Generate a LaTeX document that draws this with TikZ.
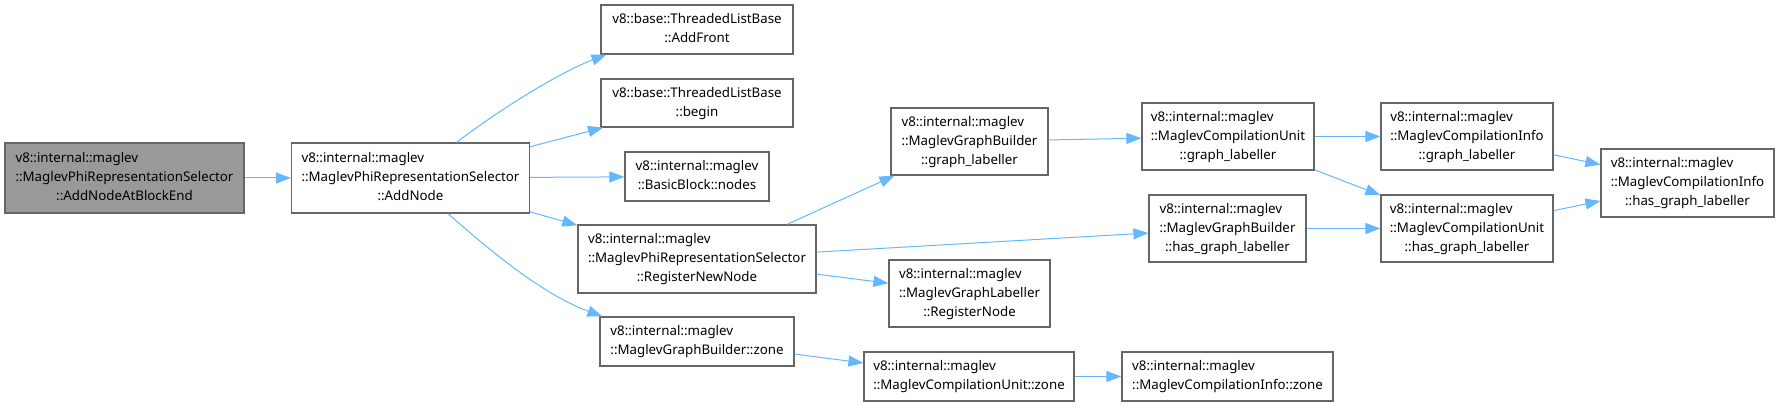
\documentclass[tikz,border=0pt]{standalone}
\usepackage{fontspec}
\setmainfont{Noto Sans}
\usetikzlibrary{arrows.meta,calc}
\definecolor{edgec}{HTML}{63B8FF}
\definecolor{bord}{HTML}{666666}
\definecolor{selfill}{HTML}{999999}
\newcommand{\lblA}[2]{\begin{tabular}{@{}l@{}}#1\\\multicolumn{1}{@{}c@{}}{#2}\end{tabular}}
\newcommand{\lblB}[3]{\begin{tabular}{@{}l@{}}#1\\#2\\\multicolumn{1}{@{}c@{}}{#3}\end{tabular}}
\tikzset{
  nbox/.style={rectangle, draw=bord, line width=1.2pt, fill=white, inner sep=0pt,
    font=\fontsize{13.3}{19}\selectfont, text=black},
  nsel/.style={nbox, fill=selfill},
  edge/.style={draw=edgec, line width=1pt, -{Triangle[length=15pt,width=11pt]}},
}
\begin{document}
\begin{tikzpicture}[x=1pt,y=-1pt]
\useasboundingbox (0,0) rectangle (1779,406);
\node[nsel, minimum width=239pt, minimum height=70pt] (sel) at (124.5,178) {\lblB{v8::internal::maglev}{::MaglevPhiRepresentationSelector}{::AddNodeAtBlockEnd}};
\node[nbox, minimum width=238pt, minimum height=70pt] (addnode) at (410.5,178) {\lblB{v8::internal::maglev}{::MaglevPhiRepresentationSelector}{::AddNode}};
\node[nbox, minimum width=192pt, minimum height=49pt] (addfront) at (697,29.5) {\lblA{v8::base::ThreadedListBase}{::AddFront}};
\node[nbox, minimum width=192pt, minimum height=48pt] (begin) at (697,103) {\lblA{v8::base::ThreadedListBase}{::begin}};
\node[nbox, minimum width=144pt, minimum height=49pt] (nodes) at (697,176.5) {\lblA{v8::internal::maglev}{::BasicBlock::nodes}};
\node[nbox, minimum width=238pt, minimum height=68pt] (regnew) at (697,259) {\lblB{v8::internal::maglev}{::MaglevPhiRepresentationSelector}{::RegisterNewNode}};
\node[nbox, minimum width=194pt, minimum height=49pt] (gbzone) at (697,341.5) {\lblA{v8::internal::maglev}{::MaglevGraphBuilder::zone}};
\node[nbox, minimum width=157pt, minimum height=67pt] (gbgl) at (969.5,141.5) {\lblB{v8::internal::maglev}{::MaglevGraphBuilder}{::graph\_labeller}};
\node[nbox, minimum width=157pt, minimum height=67pt] (gbhgl) at (1227.5,228.5) {\lblB{v8::internal::maglev}{::MaglevGraphBuilder}{::has\_graph\_labeller}};
\node[nbox, minimum width=161pt, minimum height=67pt] (regnode) at (969.5,293.5) {\lblB{v8::internal::maglev}{::MaglevGraphLabeller}{::RegisterNode}};
\node[nbox, minimum width=210pt, minimum height=49pt] (cuzone) at (969,376.5) {\lblA{v8::internal::maglev}{::MaglevCompilationUnit::zone}};
\node[nbox, minimum width=172pt, minimum height=67pt] (cugl) at (1228,136.5) {\lblB{v8::internal::maglev}{::MaglevCompilationUnit}{::graph\_labeller}};
\node[nbox, minimum width=172pt, minimum height=67pt] (cigl) at (1467,136.5) {\lblB{v8::internal::maglev}{::MaglevCompilationInfo}{::graph\_labeller}};
\node[nbox, minimum width=172pt, minimum height=67pt] (cuhgl) at (1467,228.5) {\lblB{v8::internal::maglev}{::MaglevCompilationUnit}{::has\_graph\_labeller}};
\node[nbox, minimum width=173pt, minimum height=68pt] (cihgl) at (1687.5,183) {\lblB{v8::internal::maglev}{::MaglevCompilationInfo}{::has\_graph\_labeller}};
\node[nbox, minimum width=211pt, minimum height=49pt] (cizone) at (1227.5,376.5) {\lblA{v8::internal::maglev}{::MaglevCompilationInfo::zone}};

\draw[edge] (sel) -- (addnode);
\draw[edge] ($(addnode.north)+(46,0)$) .. controls +(53,-40) and +(-42,16) .. ($(addfront.south west)+(6,0)$);
\draw[edge] (addnode) -- (begin);
\draw[edge] (addnode) -- (nodes);
\draw[edge] (addnode) -- (regnew);
\draw[edge] ($(addnode.south)+(37.5,0)$) .. controls +(42,37) and +(-60,-22) .. ($(gbzone.north west)+(3,0)$);
\draw[edge] ($(regnew.north)+(90,0)$) -- ($(gbgl.south west)+(4,0)$);
\draw[edge] (regnew) -- (gbhgl);
\draw[edge] (regnew) -- (regnode);
\draw[edge] (gbzone) -- (cuzone);
\draw[edge] (gbgl) -- (cugl);
\draw[edge] (cugl) -- (cigl);
\draw[edge] (cugl) -- (cuhgl);
\draw[edge] (gbhgl) -- (cuhgl);
\draw[edge] (cigl) -- (cihgl);
\draw[edge] (cuhgl) -- (cihgl);
\draw[edge] (cuzone) -- (cizone);
\end{tikzpicture}
\end{document}
